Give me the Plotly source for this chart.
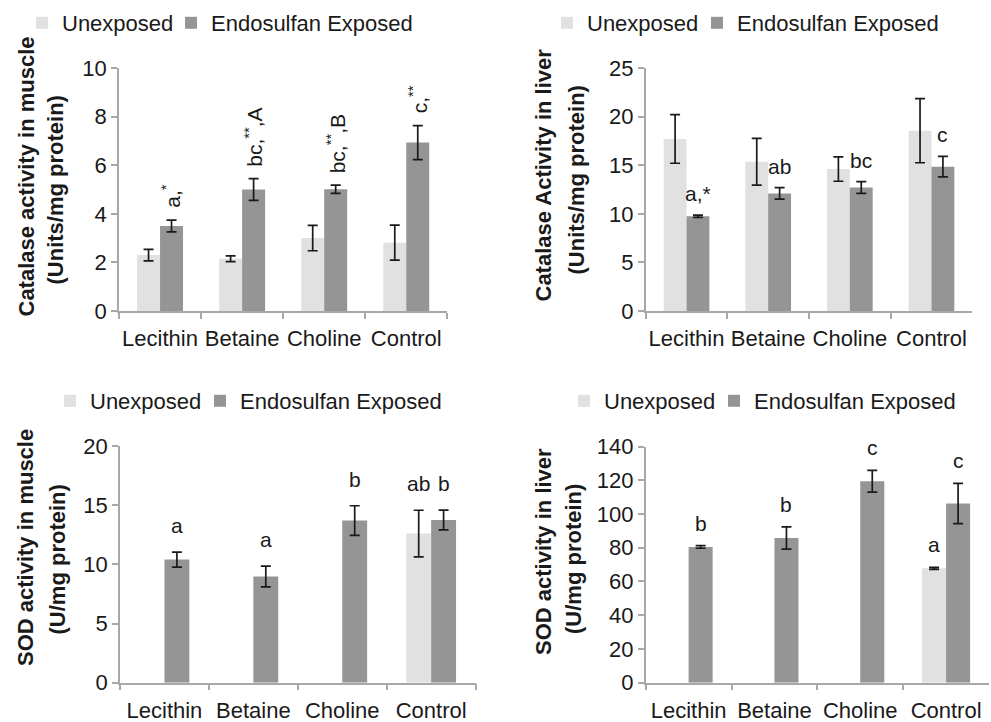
import plotly.graph_objects as go

# ---------------- data ----------------
categories = ["Lecithin", "Betaine", "Choline", "Control"]
series_names = ["Unexposed", "Endosulfan Exposed"]

# Panel 1: Catalase activity in muscle
cat_muscle_unexp = [2.3, 2.15, 3.0, 2.81]
cat_muscle_unexp_err = [0.24, 0.12, 0.52, 0.72]
cat_muscle_exp = [3.5, 5.0, 5.01, 6.93]
cat_muscle_exp_err = [0.24, 0.45, 0.17, 0.70]
cat_muscle_unexp_lbl = [None, None, None, None]
cat_muscle_exp_lbl = ["a,<sup>*</sup>", "bc,<sup>**</sup>,A", "bc,<sup>**</sup>,B", "c,<sup>**</sup>"]

# Panel 2: Catalase activity in liver
cat_liver_unexp = [17.7, 15.35, 14.6, 18.55]
cat_liver_unexp_err = [2.5, 2.4, 1.25, 3.3]
cat_liver_exp = [9.75, 12.1, 12.7, 14.85]
cat_liver_exp_err = [0.12, 0.6, 0.6, 1.05]
cat_liver_unexp_lbl = [None, None, None, None]
cat_liver_exp_lbl = ["a,*", "ab", "bc", "c"]

# Panel 3: SOD activity in muscle
sod_muscle_unexp = [None, None, None, 12.6]
sod_muscle_unexp_err = [None, None, None, 1.97]
sod_muscle_exp = [10.4, 8.97, 13.7, 13.75]
sod_muscle_exp_err = [0.63, 0.88, 1.25, 0.83]
sod_muscle_unexp_lbl = [None, None, None, "ab"]
sod_muscle_exp_lbl = ["a", "a", "b", "b"]

# Panel 4: SOD activity in liver
sod_liver_unexp = [None, None, None, 67.8]
sod_liver_unexp_err = [None, None, None, 0.6]
sod_liver_exp = [80.5, 85.8, 119.4, 106.2]
sod_liver_exp_err = [0.8, 6.6, 6.4, 11.9]
sod_liver_unexp_lbl = [None, None, None, "a"]
sod_liver_exp_lbl = ["b", "b", "c", "c"]

# ---------------- styling / layout ----------------
W, H = 991, 722
FONT = "Liberation Sans, Arial, Helvetica, sans-serif"
TXT = "#1a1a1a"
AX = "#a8a8a8"
C_UNEXP = "#e1e1e1"
C_EXP = "#959595"
BARGAP = 0.44
half_w = (1 - BARGAP) / 4  # offset of each bar centre from category centre
LEG_TEXT_OFF = 41  # px between legend box left and its text start

def px_x(a, b):
    return [a / W, b / W]

def px_y(top, bottom):
    return [1 - bottom / H, 1 - top / H]

panels = [
    dict(unexp=cat_muscle_unexp, unexp_err=cat_muscle_unexp_err, exp=cat_muscle_exp,
         exp_err=cat_muscle_exp_err, ul=cat_muscle_unexp_lbl, el=cat_muscle_exp_lbl,
         xdom=px_x(119, 447.3), ydom=px_y(68, 311), yrange=[0, 10], dtick=2,
         t1="Catalase activity in muscle", t2="(Units/mg protein)",
         t1pos=(25.5, 177), t2pos=(55.5, 190), lgx=(63, 212), lgy=23, rot=True, yshift=10),
    dict(unexp=cat_liver_unexp, unexp_err=cat_liver_unexp_err, exp=cat_liver_exp,
         exp_err=cat_liver_exp_err, ul=cat_liver_unexp_lbl, el=cat_liver_exp_lbl,
         xdom=px_x(645.7, 972.3), ydom=px_y(68, 311), yrange=[0, 25], dtick=5,
         t1="Catalase Activity in liver", t2="(Units/mg protein)",
         t1pos=(542.5, 175), t2pos=(575.5, 180), lgx=(588, 738), lgy=23, rot=False, yshift=8),
    dict(unexp=sod_muscle_unexp, unexp_err=sod_muscle_unexp_err, exp=sod_muscle_exp,
         exp_err=sod_muscle_exp_err, ul=sod_muscle_unexp_lbl, el=sod_muscle_exp_lbl,
         xdom=px_x(120, 475.6), ydom=px_y(446, 682.7), yrange=[0, 20], dtick=5,
         t1="SOD activity in muscle", t2="(U/mg protein)",
         t1pos=(25, 548), t2pos=(56.5, 560), lgx=(91, 241), lgy=401, rot=False, yshift=13),
    dict(unexp=sod_liver_unexp, unexp_err=sod_liver_unexp_err, exp=sod_liver_exp,
         exp_err=sod_liver_exp_err, ul=sod_liver_unexp_lbl, el=sod_liver_exp_lbl,
         xdom=px_x(645.7, 989), ydom=px_y(446.5, 682.7), yrange=[0, 140], dtick=20,
         t1="SOD activity in liver", t2="(U/mg protein)",
         t1pos=(543, 552), t2pos=(573, 559), lgx=(605, 755), lgy=401, rot=False, yshift=9),
]

fig = go.Figure()
annotations = []
layout_axes = {}

for i, p in enumerate(panels):
    k = i + 1
    sfx = "" if k == 1 else str(k)
    xref, yref = "x" + sfx, "y" + sfx
    for s, (name, vals, errs, col) in enumerate([
        (series_names[0], p["unexp"], p["unexp_err"], C_UNEXP),
        (series_names[1], p["exp"], p["exp_err"], C_EXP),
    ]):
        li = 2 * i + s + 1
        lg = "legend" if li == 1 else "legend%d" % li
        fig.add_trace(go.Bar(
            x=categories, y=vals, name=name, marker=dict(color=col, line=dict(width=0)),
            error_y=dict(type="data", array=errs, visible=True, color=TXT,
                         thickness=1.7, width=5),
            xaxis=xref, yaxis=yref, legend=lg, showlegend=True,
        ))
        layout_axes[lg] = dict(
            orientation="h", x=(p["lgx"][s] - LEG_TEXT_OFF) / W, y=1 - p["lgy"] / H,
            xanchor="left", yanchor="middle", itemwidth=30,
            font=dict(family=FONT, size=22, color=TXT), bgcolor="rgba(0,0,0,0)",
            itemclick=False, itemdoubleclick=False)
    # significance letters
    for lbls, vals, errs, sign in [(p["ul"], p["unexp"], p["unexp_err"], -1),
                                   (p["el"], p["exp"], p["exp_err"], 1)]:
        for j, t in enumerate(lbls):
            if t is None:
                continue
            annotations.append(dict(
                x=j + sign * half_w, y=vals[j] + (errs[j] or 0), xref=xref, yref=yref,
                text=t, showarrow=False, xanchor="center", yanchor="bottom",
                yshift=p["yshift"], textangle=-90 if p["rot"] else 0,
                font=dict(family=FONT, size=21, color=TXT)))
    # axis titles (two lines)
    for txt, (cx, cy) in [(p["t1"], p["t1pos"]), (p["t2"], p["t2pos"])]:
        annotations.append(dict(
            x=cx / W, y=1 - cy / H, xref="paper", yref="paper", text="<b>%s</b>" % txt,
            showarrow=False, textangle=-90, xanchor="center", yanchor="middle",
            font=dict(family=FONT, size=22, color=TXT)))
    layout_axes["xaxis" + sfx] = dict(
        domain=p["xdom"], anchor=yref, type="category", showline=True, linecolor=AX,
        linewidth=1.5, ticks="outside", tickson="boundaries", ticklen=6, tickcolor=AX,
        tickwidth=1.5, showgrid=False, zeroline=False, ticklabelstandoff=7, tickangle=0,
        tickfont=dict(family=FONT, size=22, color=TXT), fixedrange=True)
    layout_axes["yaxis" + sfx] = dict(
        domain=p["ydom"], anchor=xref, range=p["yrange"], dtick=p["dtick"], showline=True,
        linecolor=AX, linewidth=1.5, ticks="outside", ticklen=6, tickcolor=AX, tickwidth=1.5,
        showgrid=False, zeroline=False, tickfont=dict(family=FONT, size=22, color=TXT),
        fixedrange=True)

fig.update_layout(
    width=W, height=H, margin=dict(l=0, r=0, t=0, b=0, autoexpand=False),
    paper_bgcolor="white", plot_bgcolor="white",
    barmode="group", bargap=BARGAP, bargroupgap=0,
    font=dict(family=FONT, color=TXT), annotations=annotations,
    **layout_axes,
)

fig.write_html(
    "out.html",
    config={"displayModeBar": False},
    post_script="document.body.style.margin='0';document.body.style.overflow='hidden';",
)
